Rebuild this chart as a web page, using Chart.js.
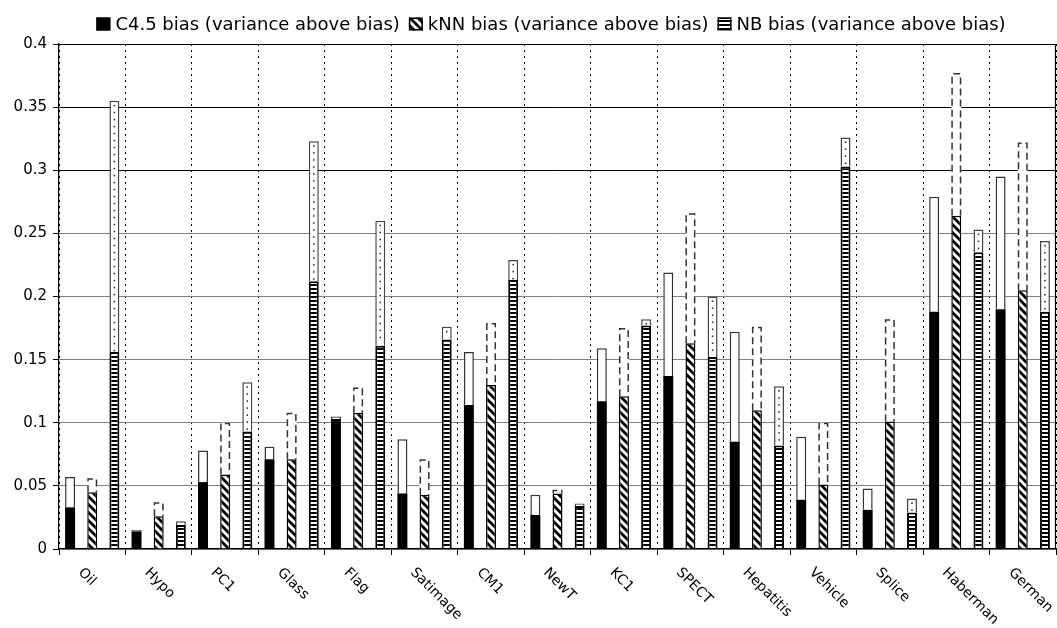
<!DOCTYPE html>
<html>
<head>
<meta charset="utf-8">
<script src="https://cdn.jsdelivr.net/npm/chart.js@4/dist/chart.umd.min.js"></script>
<style>
  html, body { margin: 0; padding: 0; background: #fff; }
  #wrap { width: 1057px; height: 628px; }
</style>
</head>
<body>
<div id="wrap"><canvas id="c" width="1057" height="628"></canvas></div>
<script>
// Data sets along the x axis
const categories = ['Oil', 'Hypo', 'PC1', 'Glass', 'Flag', 'Satimage', 'CM1', 'NewT', 'KC1', 'SPECT', 'Hepatitis', 'Vehicle', 'Splice', 'Haberman', 'German'];

// Bias of each learner, and the variance stacked above it
const c45Bias      = [0.033, 0.014, 0.053, 0.071, 0.103, 0.044, 0.114, 0.027, 0.117, 0.137, 0.085, 0.039, 0.031, 0.188, 0.190];
const c45Variance  = [0.024, 0.001, 0.025, 0.010, 0.002, 0.043, 0.042, 0.016, 0.042, 0.082, 0.087, 0.050, 0.017, 0.091, 0.105];
const knnBias      = [0.045, 0.026, 0.059, 0.071, 0.108, 0.043, 0.130, 0.044, 0.121, 0.163, 0.110, 0.051, 0.101, 0.264, 0.205];
const knnVariance  = [0.011, 0.011, 0.041, 0.037, 0.020, 0.028, 0.049, 0.003, 0.054, 0.103, 0.066, 0.049, 0.081, 0.113, 0.117];
const nbBias       = [0.156, 0.019, 0.093, 0.212, 0.161, 0.166, 0.213, 0.034, 0.177, 0.152, 0.082, 0.303, 0.029, 0.235, 0.188];
const nbVariance   = [0.199, 0.003, 0.039, 0.111, 0.099, 0.010, 0.016, 0.002, 0.005, 0.048, 0.047, 0.023, 0.011, 0.018, 0.056];

const yTickLabels  = ['0', '0.05', '0.1', '0.15', '0.2', '0.25', '0.3', '0.35', '0.4'];
const legendLabels = ['C4.5 bias (variance above bias)', 'kNN bias (variance above bias)', 'NB bias (variance above bias)'];

const FONT = '"DejaVu Sans", Verdana, sans-serif';

// Fill patterns
function hatchPattern() {
  const c = document.createElement('canvas');
  c.width = 8; c.height = 8;
  const g = c.getContext('2d');
  g.fillStyle = '#fff'; g.fillRect(0, 0, 8, 8);
  g.strokeStyle = '#000'; g.lineWidth = 2.8;
  g.beginPath();
  g.moveTo(-1, -1); g.lineTo(9, 9);
  g.moveTo(-1, 7);  g.lineTo(1, 9);
  g.moveTo(7, -1);  g.lineTo(9, 1);
  g.stroke();
  return g.createPattern(c, 'repeat');
}
function stripePattern() {
  const c = document.createElement('canvas');
  c.width = 4; c.height = 4;
  const g = c.getContext('2d');
  g.fillStyle = '#000'; g.fillRect(0, 0, 4, 4);
  g.fillStyle = '#fff'; g.fillRect(0, 2, 4, 2);
  return g.createPattern(c, 'repeat');
}
const ctx0 = document.getElementById('c').getContext('2d');
const hatch = hatchPattern();
const stripes = stripePattern();

// Decorations drawn on top of the bars: dashed kNN variance boxes,
// dotted NB variance boxes, plot frame, rotated category labels, legend
const decorations = {
  id: 'decorations',
  afterDatasetsDraw(chart) {
    const ctx = chart.ctx;
    const area = chart.chartArea;

    // kNN variance: dashed outline (sides and top)
    chart.getDatasetMeta(3).data.forEach(bar => {
      const p = bar.getProps(['x', 'y', 'base', 'width'], true);
      const l = p.x - p.width / 2 + 0.75, r = p.x + p.width / 2 - 0.75;
      ctx.save();
      ctx.strokeStyle = '#333';
      ctx.lineWidth = 1.5;
      ctx.setLineDash([7, 4]);
      ctx.beginPath();
      ctx.moveTo(l, p.base); ctx.lineTo(l, p.y + 0.75);
      ctx.lineTo(r, p.y + 0.75); ctx.lineTo(r, p.base);
      ctx.stroke();
      ctx.restore();
    });

    // NB variance: dotted line down the middle
    chart.getDatasetMeta(5).data.forEach(bar => {
      const p = bar.getProps(['x', 'y', 'base', 'width'], true);
      ctx.save();
      ctx.fillStyle = '#222';
      for (let yy = p.y + 4; yy < p.base - 2; yy += 7) {
        ctx.fillRect(p.x - 0.75, yy, 1.5, 1.5);
      }
      ctx.restore();
    });

    // frame: top and right edges
    ctx.save();
    ctx.strokeStyle = '#000';
    ctx.lineWidth = 1.2;
    ctx.beginPath();
    ctx.moveTo(area.left, area.top + 0.5);
    ctx.lineTo(area.right - 0.5, area.top + 0.5);
    ctx.lineTo(area.right - 0.5, area.bottom);
    ctx.stroke();
    ctx.restore();
  },
  afterDraw(chart) {
    const ctx = chart.ctx;
    const xs = chart.scales.x;
    const bottom = chart.chartArea.bottom;

    // rotated category labels
    ctx.save();
    ctx.font = '14px ' + FONT;
    ctx.fillStyle = '#000';
    ctx.textAlign = 'left';
    ctx.textBaseline = 'middle';
    categories.forEach((name, i) => {
      const x = xs.getPixelForValue(i);
      ctx.save();
      ctx.translate(x - 12, bottom + 21.5);
      ctx.rotate(Math.PI / 4);
      ctx.fillText(name, 0, 0);
      ctx.restore();
    });
    ctx.restore();

    // legend
    ctx.save();
    ctx.font = '18px ' + FONT;
    ctx.textBaseline = 'middle';
    ctx.textAlign = 'left';
    const box = 14, boxGap = 5, itemGap = 9;
    const widths = legendLabels.map(t => ctx.measureText(t).width);
    const total = widths.reduce((a, w) => a + box + boxGap + w, 0) + itemGap * (legendLabels.length - 1);
    let x = 551 - total / 2;
    const cy = 24;
    const fills = ['#000', hatch, stripes];
    legendLabels.forEach((t, i) => {
      ctx.fillStyle = fills[i];
      ctx.fillRect(x, cy - 6.5, box, 13);
      ctx.strokeStyle = '#000';
      ctx.lineWidth = 1.5;
      ctx.strokeRect(x + 0.75, cy - 5.75, box - 1.5, 11.5);
      ctx.fillStyle = '#000';
      ctx.fillText(t, x + box + boxGap, cy + 1);
      x += box + boxGap + widths[i] + itemGap;
    });
    ctx.restore();
  }
};

const barBase = { barPercentage: 0.45, categoryPercentage: 1.0, borderSkipped: 'start' };

new Chart(ctx0, {
  type: 'bar',
  data: {
    labels: categories,
    datasets: [
      Object.assign({ label: 'C4.5 bias', data: c45Bias, stack: 'c45', backgroundColor: '#000', borderColor: '#000', borderWidth: 0 }, barBase),
      Object.assign({ label: 'C4.5 variance', data: c45Variance, stack: 'c45', backgroundColor: '#fff', borderColor: '#333', borderWidth: 1.5 }, barBase),
      Object.assign({ label: 'kNN bias', data: knnBias, stack: 'knn', backgroundColor: hatch, borderColor: '#000', borderWidth: 1.5 }, barBase),
      Object.assign({ label: 'kNN variance', data: knnVariance, stack: 'knn', backgroundColor: '#fff', borderColor: '#fff', borderWidth: 0 }, barBase),
      Object.assign({ label: 'NB bias', data: nbBias, stack: 'nb', backgroundColor: stripes, borderColor: '#000', borderWidth: 2 }, barBase),
      Object.assign({ label: 'NB variance', data: nbVariance, stack: 'nb', backgroundColor: '#fff', borderColor: '#444', borderWidth: 1.5 }, barBase)
    ]
  },
  options: {
    responsive: false,
    animation: false,
    devicePixelRatio: 1,
    layout: { padding: { top: 44, right: 1, left: 0, bottom: 0 } },
    plugins: {
      legend: { display: false },
      tooltip: { enabled: false },
      title: { display: false }
    },
    scales: {
      x: {
        stacked: true,
        offset: true,
        grid: {
          offset: true,
          color: '#000',
          lineWidth: 1,
          drawTicks: true,
          tickLength: 6,
          tickColor: '#000',
          tickBorderDash: []
        },
        border: { display: true, color: '#000', width: 1.2, dash: [2, 4] },
        ticks: { display: false },
        afterFit(scale) { scale.height = 79; }
      },
      y: {
        stacked: true,
        min: 0,
        max: 0.4,
        ticks: {
          stepSize: 0.05,
          padding: 6,
          color: '#000',
          font: { family: FONT, size: 15 },
          callback: (v, i) => yTickLabels[i]
        },
        grid: {
          color: c => (c.tick && c.tick.value >= 0.299) ? '#000' : '#808080',
          lineWidth: 1,
          tickLength: 6,
          tickColor: '#000'
        },
        border: { display: true, color: '#000', width: 1.2 },
        afterFit(scale) { scale.width = 59; }
      }
    }
  },
  plugins: [decorations]
});
</script>
</body>
</html>
